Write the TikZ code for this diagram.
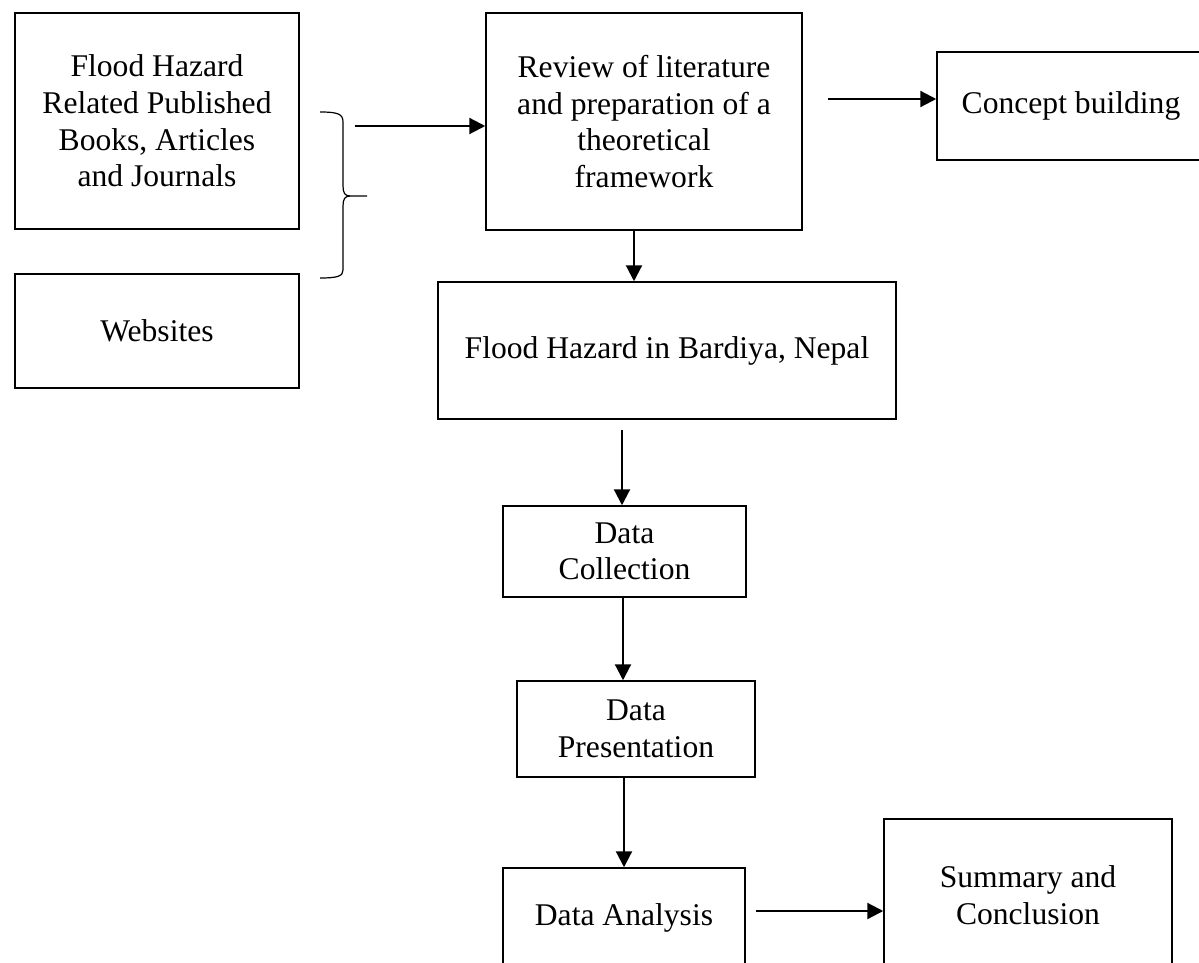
\documentclass[tikz,border=0pt]{standalone}
\usepackage{fontspec}
\setmainfont{Liberation Serif}
\usetikzlibrary{arrows.meta}
\begin{document}
\begin{tikzpicture}[x=0.5pt,y=-0.5pt,>={Triangle[length=8pt,width=8pt]},
    box/.style={draw,line width=0.75pt,align=center,inner sep=0pt,font=\fontsize{15.8}{18.3}\selectfont},
    arr/.style={->,line width=1.1pt}]
    \useasboundingbox (0,0) rectangle (1199,963);
    \clip (0,0) rectangle (1199,963);
    % sources
    \node[box,minimum width=142pt,minimum height=108pt] (books) at (157,121) {Flood Hazard\\Related Published\\Books, Articles\\and Journals};
    \node[box,minimum width=142pt,minimum height=57pt] (web) at (157,331) {Websites};
    % main column
    \node[box,minimum width=158pt,minimum height=108.5pt] (review) at (644,121.5) {Review of literature\\and preparation of a\\theoretical\\framework};
    \node[box,minimum width=134pt,minimum height=54pt] (concept) at (1071,106) {Concept building};
    \node[box,minimum width=229pt,minimum height=68.5pt] (bardiya) at (667,350.5) {Flood Hazard in Bardiya, Nepal};
    \node[box,minimum width=121.5pt,minimum height=45.5pt] (collection) at (624.5,551.5) {Data\\Collection};
    \node[box,minimum width=119pt,minimum height=48pt] (presentation) at (636,729) {Data\\Presentation};
    \node[box,minimum width=121pt,minimum height=50pt] (analysis) at (624,918) {Data Analysis};
    \node[box,minimum width=144pt,minimum height=76pt] (summary) at (1028,895) {Summary and\\Conclusion};
    % brace round the sources
    \draw[line width=0.6pt] (320,112) .. controls (338,112) and (343,114) .. (343,122) -- (343,186)
        .. controls (343,193) and (345,196) .. (350,196) -- (367,196);
    \draw[line width=0.6pt] (350,196) .. controls (345,196) and (343,199) .. (343,206) -- (343,270)
        .. controls (343,276) and (338,278) .. (320,278);
    \coordinate (src) at (355,126);
    \coordinate (rv) at (828,99);
    \coordinate (bd) at (622,430);
    \coordinate (an) at (756,911);
    % connectors
    \draw[arr] (src) -- (src -| review.west);
    \draw[arr] (rv) -- (rv -| concept.west);
    \draw[arr] (review.south -| 634,0) -- (bardiya.north -| 634,0);
    \draw[arr] (bd) -- (bd |- collection.north);
    \draw[arr] (collection.south -| 623,0) -- (presentation.north -| 623,0);
    \draw[arr] (presentation.south -| 624,0) -- (analysis.north -| 624,0);
    \draw[arr] (an) -- (an -| summary.west);
\end{tikzpicture}
\end{document}
